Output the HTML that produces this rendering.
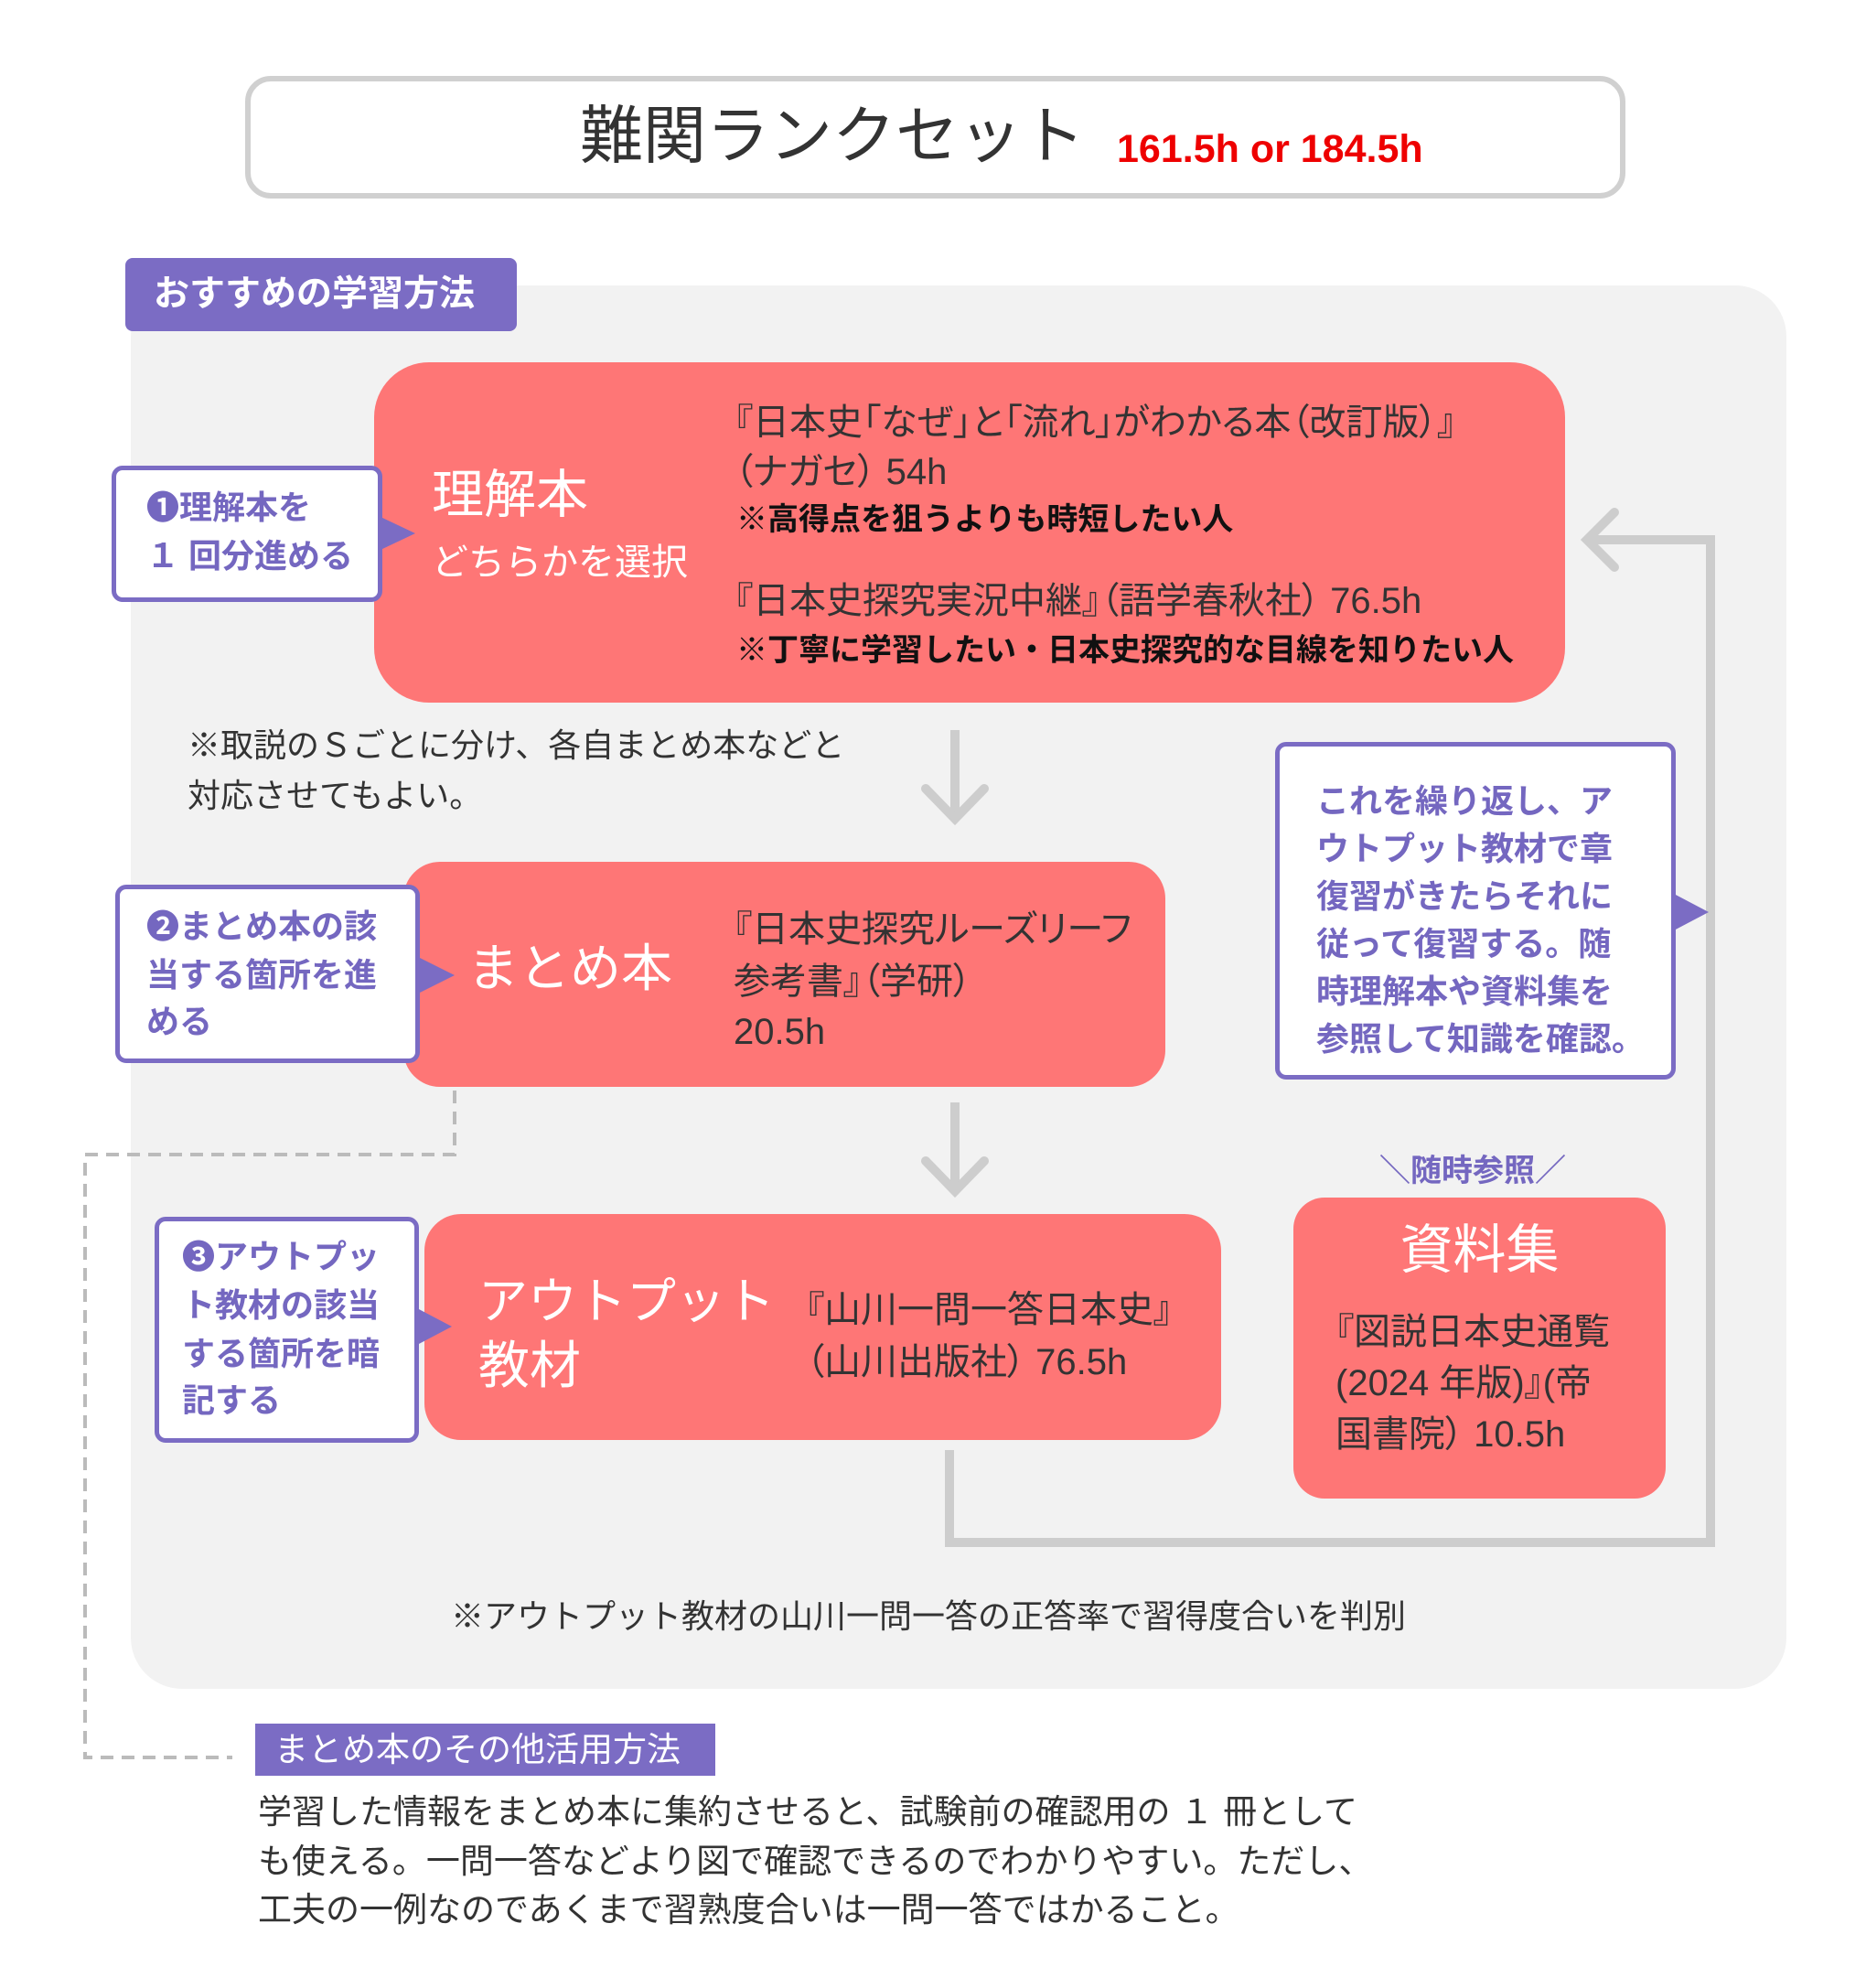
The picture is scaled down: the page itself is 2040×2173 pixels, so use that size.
<!DOCTYPE html>
<html><head><meta charset="utf-8"><style>
body{margin:0;width:2040px;height:2173px;background:#fff;position:relative;overflow:hidden;font-family:"Liberation Sans","Noto Sans CJK JP",sans-serif;color:#333}
div{position:absolute;box-sizing:border-box}
.t{white-space:nowrap;line-height:1}
.red{background:#fe7676}
.call{background:#fff;border:5px solid #7b6cc4;border-radius:12px}
.pc{color:#7467c0;font-weight:bold;font-size:36px}
.w{color:#fff}
.p{font-feature-settings:"palt"}
</style></head><body>
<div style="left:268px;top:83px;width:1509px;height:134px;border:6px solid #d0d0d0;border-radius:28px"></div>
<div class="t" style="left:634px;top:114px;font-size:69px;color:#333">難関ランクセット</div>
<div class="t" style="left:1221px;top:142px;font-size:43px;color:#e00;font-weight:bold">161.5h or 184.5h</div>

<div style="left:143px;top:312px;width:1810px;height:1534px;background:#f2f2f2;border-radius:56px"></div>
<div style="left:137px;top:282px;width:428px;height:80px;background:#7b6cc4;border-radius:8px"></div>
<div class="t w" style="left:168px;top:302px;font-size:39px;font-weight:bold">おすすめの学習方法</div>

<svg style="position:absolute;left:0;top:0" width="2040" height="2173">
<g fill="none" stroke="#cdcdcd" stroke-width="10">
<polyline points="1038,1585 1038,1686 1870,1686 1870,590 1735,590"/>
<polyline points="1765,560 1735,590 1765,620" stroke-linecap="round"/>
<line x1="1044" y1="798" x2="1044" y2="895"/>
<polyline points="1012,862 1044,895 1076,862" stroke-linecap="round"/>
<line x1="1044" y1="1205" x2="1044" y2="1302"/>
<polyline points="1012,1269 1044,1302 1076,1269" stroke-linecap="round"/>
</g>
<polyline points="497,1169 497,1262 93,1262 93,1921 254,1921" fill="none" stroke="#bbb" stroke-width="4" stroke-dasharray="14,9"/>
</svg>

<!-- box1 -->
<div class="red" style="left:409px;top:396px;width:1302px;height:372px;border-radius:60px"></div>
<div class="t w" style="left:472px;top:513px;font-size:57px">理解本</div>
<div class="t w" style="left:472px;top:595px;font-size:40px">どちらかを選択</div>
<div class="t p" style="left:803px;top:442px;font-size:40px">『日本史「なぜ」と「流れ」がわかる本（改訂版）』</div>
<div class="t p" style="left:803px;top:496px;font-size:40px">（ナガセ） 54h</div>
<div class="t" style="left:805px;top:551px;font-size:34px;font-weight:bold;color:#111">※高得点を狙うよりも時短したい人</div>
<div class="t p" style="left:803px;top:637px;font-size:40px">『日本史探究実況中継』（語学春秋社） 76.5h</div>
<div class="t" style="left:805px;top:694px;font-size:34px;font-weight:bold;color:#111">※丁寧に学習したい・日本史探究的な目線を知りたい人</div>
<div class="call" style="left:122px;top:509px;width:296px;height:149px"></div>
<div class="t pc" style="left:160px;top:537px">❶理解本を</div>
<div class="t pc" style="left:160px;top:590px">１ 回分進める</div>

<div class="t" style="left:205px;top:797px;font-size:36px">※取説のＳごとに分け、各自まとめ本などと</div>
<div class="t" style="left:205px;top:852px;font-size:36px">対応させてもよい。</div>

<!-- box2 -->
<div class="red" style="left:441px;top:942px;width:833px;height:246px;border-radius:40px"></div>
<div class="t w" style="left:511px;top:1031px;font-size:56px">まとめ本</div>
<div class="t p" style="left:802px;top:996px;font-size:40px">『日本史探究ルーズリーフ</div>
<div class="t p" style="left:802px;top:1053px;font-size:40px">参考書』（学研）</div>
<div class="t" style="left:802px;top:1108px;font-size:40px">20.5h</div>
<div class="call" style="left:126px;top:967px;width:333px;height:195px"></div>
<div class="t pc" style="left:160px;top:995px">❷まとめ本の該</div>
<div class="t pc" style="left:160px;top:1048px">当する箇所を進</div>
<div class="t pc" style="left:160px;top:1099px">める</div>

<!-- right callout -->
<div class="call" style="left:1394px;top:811px;width:438px;height:369px"></div>
<div class="t pc" style="left:1439px;top:850px;line-height:52px">これを繰り返し、ア<br>ウトプット教材で章<br>復習がきたらそれに<br>従って復習する。随<br>時理解本や資料集を<br>参照して知識を確認。</div>

<!-- box3 -->
<div class="red" style="left:464px;top:1327px;width:871px;height:247px;border-radius:40px"></div>
<div class="t w" style="left:523px;top:1396px;font-size:54px">アウトプット</div>
<div class="t w" style="left:523px;top:1465px;font-size:56px">教材</div>
<div class="t p" style="left:881px;top:1412px;font-size:40px">『山川一問一答日本史』</div>
<div class="t p" style="left:881px;top:1469px;font-size:40px">（山川出版社） 76.5h</div>
<div class="call" style="left:169px;top:1330px;width:289px;height:247px"></div>
<div class="t pc" style="left:199px;top:1356px">❸アウトプッ</div>
<div class="t pc" style="left:199px;top:1409px">ト教材の該当</div>
<div class="t pc" style="left:199px;top:1462px">する箇所を暗</div>
<div class="t pc" style="left:199px;top:1513px">記する</div>

<!-- 資料集 -->
<div class="t" style="left:1508px;top:1263px;font-size:34px;font-weight:bold;color:#7467c0">＼随時参照／</div>
<div class="red" style="left:1414px;top:1309px;width:407px;height:329px;border-radius:34px"></div>
<div class="t w" style="left:1414px;width:407px;text-align:center;top:1338px;font-size:58px">資料集</div>
<div class="t p" style="left:1460px;top:1436px;font-size:40px">『図説日本史通覧</div>
<div class="t p" style="left:1460px;top:1492px;font-size:40px">(2024 年版)』(帝</div>
<div class="t p" style="left:1460px;top:1548px;font-size:40px">国書院） 10.5h</div>

<div class="t" style="left:493px;top:1749px;font-size:36px">※アウトプット教材の山川一問一答の正答率で習得度合いを判別</div>

<div style="left:279px;top:1884px;width:503px;height:57px;background:#7b6cc4"></div>
<div class="t w" style="left:300px;top:1894px;font-size:37px">まとめ本のその他活用方法</div>
<div class="t" style="left:282px;top:1962px;font-size:37px">学習した情報をまとめ本に集約させると、試験前の確認用の １ 冊として</div>
<div class="t" style="left:282px;top:2016px;font-size:37px">も使える。一問一答などより図で確認できるのでわかりやすい。ただし、</div>
<div class="t" style="left:282px;top:2069px;font-size:37px">工夫の一例なのであくまで習熟度合いは一問一答ではかること。</div>

<svg style="position:absolute;left:0;top:0" width="2040" height="2173">
<g fill="#7b6cc4">
<polygon points="416,565 454,583 416,601"/>
<polygon points="457,1046 497,1066 457,1086"/>
<polygon points="456,1430 494,1450 456,1470"/>
<polygon points="1830,977 1868,997 1830,1017"/>
</g>
</svg>
</body></html>
